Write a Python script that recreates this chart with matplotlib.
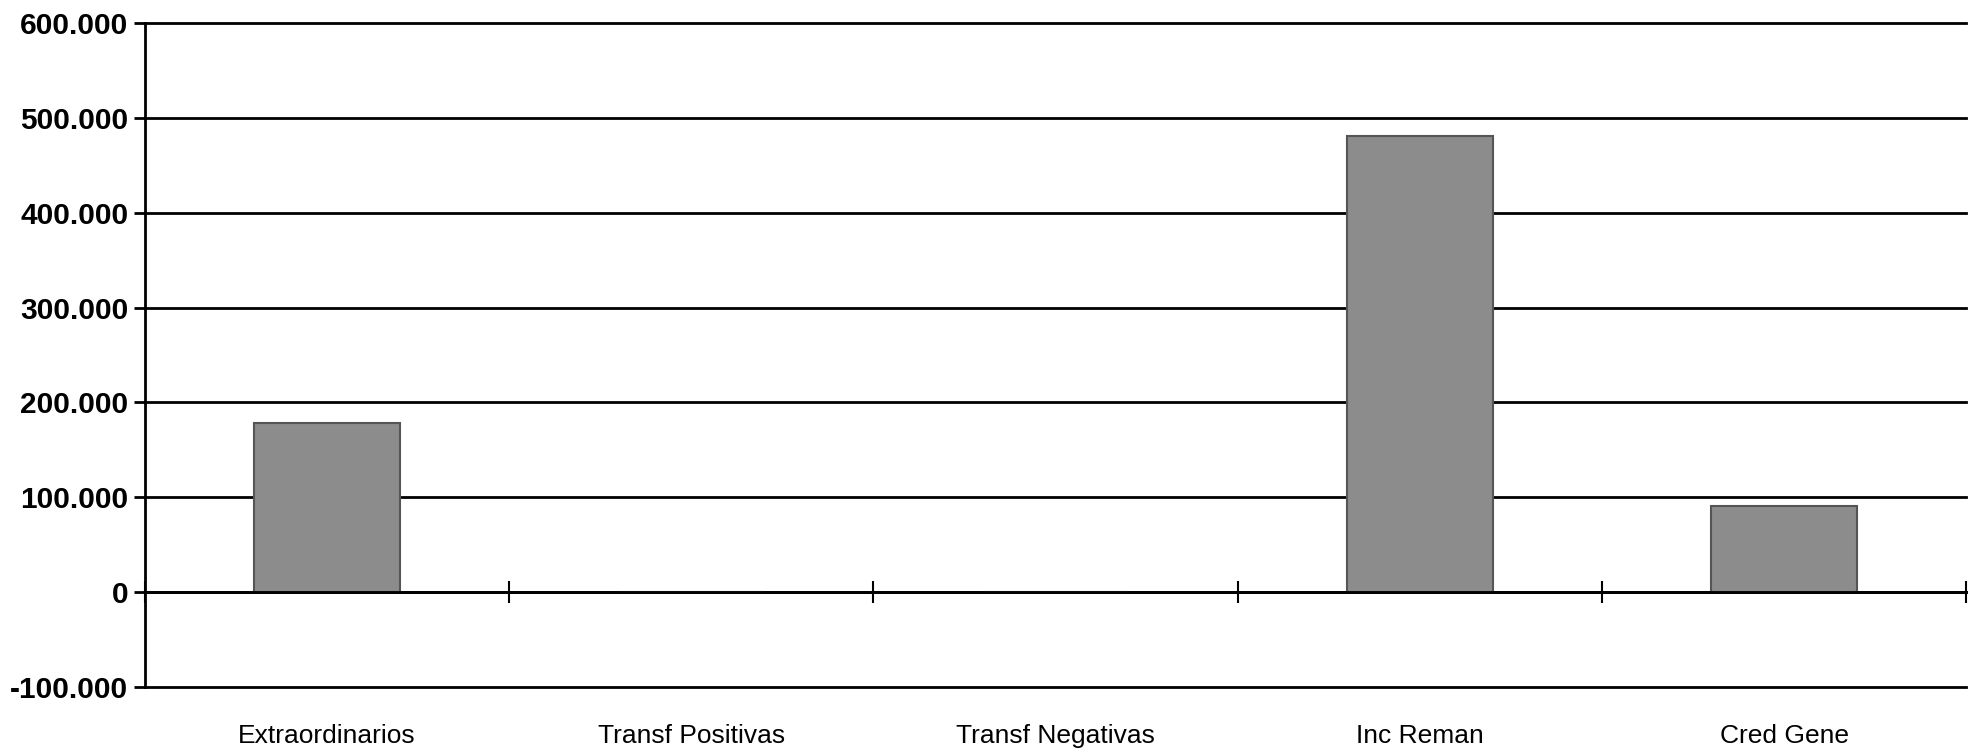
import matplotlib
matplotlib.use('Agg')
import matplotlib.pyplot as plt
from matplotlib.ticker import FuncFormatter, FixedLocator
import numpy as np

categorias = ['Extraordinarios', 'Transf Positivas', 'Transf Negativas', 'Inc Reman', 'Cred Gene']
valores = [178500, 0, 0, 480500, 90500]
y_ticks = [-100000, 0, 100000, 200000, 300000, 400000, 500000, 600000]

fig = plt.figure(figsize=(19.84, 7.54), dpi=100)
ax = fig.add_axes([0.073, 0.089, 0.918, 0.8805])

x = np.arange(len(categorias))
ax.bar(x, valores, width=0.4, color='#8c8c8c', edgecolor='#555555', linewidth=1.5, zorder=3)

ax.set_xlim(-0.5, len(categorias) - 0.5)
ax.set_ylim(y_ticks[0], y_ticks[-1])
ax.set_yticks(y_ticks)
ax.yaxis.set_major_formatter(FuncFormatter(lambda v, p: f'{int(v):,}'.replace(',', '.')))
ax.grid(axis='y', color='black', linewidth=2, zorder=1)
for gl in ax.get_ygridlines():
    gl.set_clip_on(False)

for s in ['top', 'right']:
    ax.spines[s].set_visible(False)
ax.spines['left'].set_linewidth(2)
ax.spines['bottom'].set_position(('data', 0))
ax.spines['bottom'].set_linewidth(2)
ax.spines['bottom'].set_zorder(4)

ax.set_xticks(x)
ax.set_xticklabels(categorias, fontsize=19, family=['Liberation Sans', 'DejaVu Sans'])
ax.xaxis.set_minor_locator(FixedLocator(np.arange(len(categorias) + 1) - 0.5))
ax.tick_params(axis='x', which='major', length=0, pad=95)
ax.tick_params(axis='x', which='minor', direction='inout', length=16, width=1.5)
ax.tick_params(axis='y', length=8, width=2, pad=4)
for lbl in ax.get_yticklabels():
    lbl.set_fontsize(21.5)
    lbl.set_fontweight('bold')
    lbl.set_family(['Liberation Sans', 'DejaVu Sans'])

fig.savefig('out.png', dpi=100, facecolor='white')
